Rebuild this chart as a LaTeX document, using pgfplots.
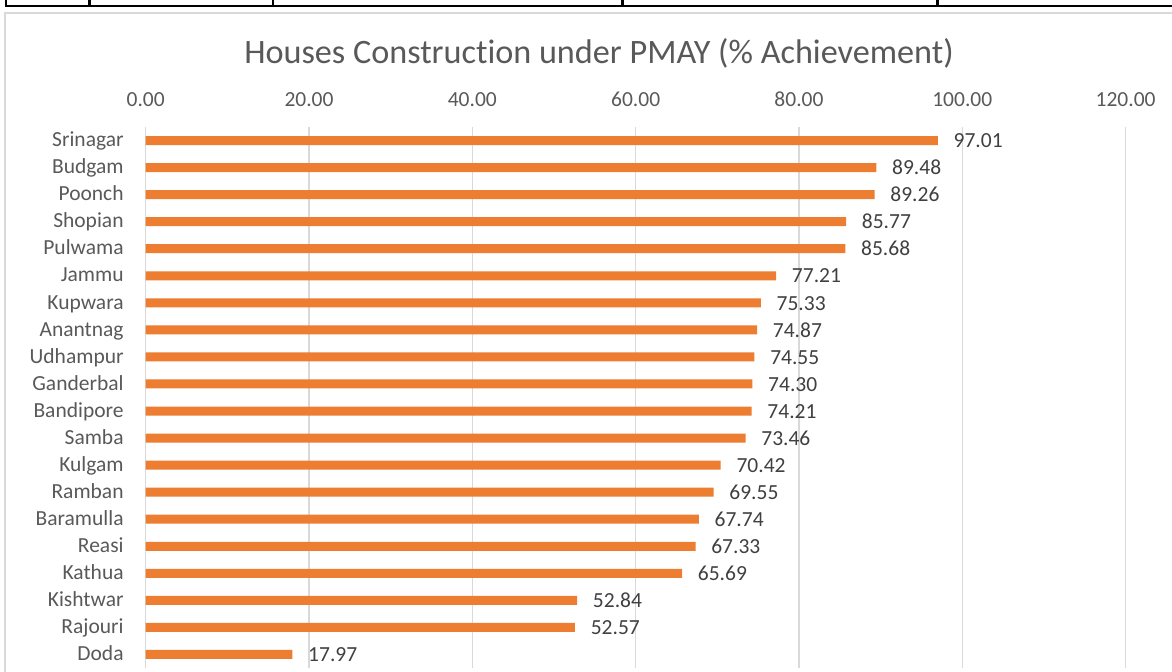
\documentclass[border=0pt]{standalone}
\usepackage{fontspec}
\setmainfont[Ligatures=NoCommon]{Carlito}
\usepackage{pgfplots}
\pgfplotsset{compat=1.18}
\definecolor{barc}{HTML}{ED7D31}
\definecolor{txt}{HTML}{595959}
\definecolor{grd}{HTML}{D9D9D9}
\definecolor{lbl}{HTML}{404040}
\begin{document}
\begin{tikzpicture}
\useasboundingbox (0,0) rectangle (586pt,335.5pt);
\begin{scope}[yshift=335.5pt,x=0.5pt,y=-0.5pt]
  \clip (0,0) rectangle (1172,671);
  % table lines at top
  \draw[line width=1.25pt,black] (5,6.1) -- (1180,6.1);
  \foreach \xx in {6,89.3,273,622.5,937.5}{
    \draw[line width=1.25pt,black] (\xx,-5) -- (\xx,6.1);
  }
  % chart frame
  \draw[line width=0.75pt,grd] (4.8,1000) -- (4.8,13) -- (1300,13);
  % title
  \node[anchor=base,inner sep=0pt,text=txt,font=\fontsize{17.1}{20}\selectfont] at (599,63.5) {Houses Construction under PMAY (\% Achievement)};
\end{scope}
\begin{axis}[
  at={(72.85pt,1.5pt)}, anchor=south west,
  width=489.95pt, height=270.5pt, scale only axis,
  xmin=0, xmax=120, ymin=-0.5, ymax=19.5,
  y dir=reverse,
  enlargelimits=false,
  clip=false,
  xbar, bar width=4.5pt,
  axis line style={draw=none},
  major tick length=0pt,
  tick style={draw=none},
  xmajorgrids, ymajorgrids=false,
  grid style={grd,line width=0.75pt},
  xtick={0,20,40,60,80,100,120},
  xticklabel pos=upper,
  xticklabel={\pgfmathprintnumber[fixed,fixed zerofill,precision=2,assume math mode=true]{\tick}},
  xticklabel style={anchor=base,inner sep=0pt,yshift=10.5pt,text=txt,font=\fontsize{10.75}{12}\selectfont},
  ytick={0,...,19},
  yticklabels={Srinagar,Budgam,Poonch,Shopian,Pulwama,Jammu,Kupwara,Anantnag,Udhampur,Ganderbal,Bandipore,Samba,Kulgam,Ramban,Baramulla,Reasi,Kathua,Kishtwar,Rajouri,Doda},
  yticklabel style={anchor=base east,inner sep=0pt,xshift=-10.85pt,yshift=-3.1pt,text=txt,font=\fontsize{10.75}{12}\selectfont},
  nodes near coords={\pgfmathprintnumber[fixed,fixed zerofill,precision=2,assume math mode=true]{\pgfplotspointmeta}},
  every node near coord/.append style={anchor=base west,inner sep=0pt,xshift=7.7pt,yshift=-3.6pt,text=lbl,font=\fontsize{10.75}{12}\selectfont},
]
\addplot[fill=barc,draw=none] coordinates {
(97.01,0) (89.48,1) (89.26,2) (85.77,3) (85.68,4) (77.21,5) (75.33,6) (74.87,7) (74.55,8) (74.30,9)
(74.21,10) (73.46,11) (70.42,12) (69.55,13) (67.74,14) (67.33,15) (65.69,16) (52.84,17) (52.57,18) (17.97,19)
};
\end{axis}
\end{tikzpicture}
\end{document}
